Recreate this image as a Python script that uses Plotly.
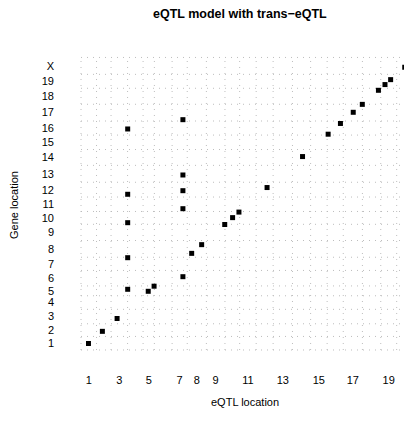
import numpy as np
import plotly.graph_objects as go

# ---- data ----
chrom_names = ["1", "2", "3", "4", "5", "6", "7", "8", "9", "10",
               "11", "12", "13", "14", "15", "16", "17", "18", "19", "X"]
chrom_len_cM = [77, 72, 82, 77, 56, 88, 75, 95, 92, 73,
                82, 84, 96, 90, 82, 80, 95, 91, 79, 96]
x_tick_chroms = ["1", "3", "5", "7", "8", "9", "11", "13", "15", "17", "19"]

# eQTL (x) and gene (y) locations: chromosome + position within chromosome (cM)
qtl_chr = ["1", "2", "3", "5", "5", "8", "8", "9", "10", "10", "12", "14", "16", "16",
           "17", "17", "18", "19", "19", "X", "X",
           "4", "4", "4", "4", "4",
           "7", "7", "7", "7", "7"]
qtl_pos = [37, 29, 30, 25.5, 54.5, 22, 71.5, 91, 38, 69.5, 54, 50, 5, 66,
           49.5, 94.5, 79.5, 21, 49, 40, 55,
           0.6, 0.6, 0.6, 0.6, 0.6,
           53.5, 53.5, 53.5, 53.5, 53.5]
gene_chr = ["1", "2", "3", "5", "5", "8", "8", "9", "10", "10", "12", "14", "16", "16",
            "17", "17", "18", "19", "19", "X", "X",
            "16", "12", "10", "7", "5",
            "17", "13", "12", "11", "6"]
gene_pos = [37, 29, 30, 25.5, 54.5, 22, 71.5, 91, 38, 69.5, 54, 50, 5, 66,
            49.5, 94.5, 79.5, 21, 49, 40, 55,
            34.7, 15.7, 9.3, 72.4, 36.9,
            7.5, 41.3, 36.1, 15.8, 52.5]

# ---- derived positions ----
lens = np.array(chrom_len_cM, dtype=float)
starts = np.concatenate([[0.0], np.cumsum(lens)[:-1]])
bounds = np.concatenate([[0.0], np.cumsum(lens)])
mids = starts + lens / 2
start_of = dict(zip(chrom_names, starts))
mid_of = dict(zip(chrom_names, mids))

xs = [start_of[c] + p for c, p in zip(qtl_chr, qtl_pos)]
ys = [start_of[c] + p for c, p in zip(gene_chr, gene_pos)]

OFF = 8  # page body margin
W, H = 404, 414
ML, MR, MT, MB = 72, 0, 47, 70
XR = [-5, 1642]
YR = [-11.4, 1676]

fig = go.Figure()
fig.add_trace(go.Scatter(
    x=xs, y=ys, mode="markers",
    marker=dict(symbol="square", size=5, color="black", line=dict(width=0)),
    cliponaxis=False, hoverinfo="skip", showlegend=False))

grid_line = dict(color="#bdbdbd", width=1, dash="1px,5px")
shapes = []
for b in bounds:
    shapes.append(dict(type="line", xref="x", yref="y", x0=b, x1=b, y0=0, y1=bounds[-1],
                       line=grid_line, layer="below"))
    shapes.append(dict(type="line", xref="x", yref="y", x0=0, x1=bounds[-1], y0=b, y1=b,
                       line=grid_line, layer="below"))

def px_to_paper_x(px):
    return (px - OFF - ML) / (W - ML - MR)

def px_to_paper_y(py):
    return (H - MB - (py - OFF)) / (H - MT - MB)

font_family = "Liberation Sans, Arial, sans-serif"
annotations = [
    dict(text="<b>eQTL model with trans\u2212eQTL</b>", x=px_to_paper_x(240), y=px_to_paper_y(14),
         xref="paper", yref="paper", showarrow=False, xanchor="center", yanchor="middle",
         font=dict(size=12.5, color="black", family=font_family)),
    dict(text="eQTL location", x=px_to_paper_x(245), y=px_to_paper_y(402),
         xref="paper", yref="paper", showarrow=False, xanchor="center", yanchor="middle",
         font=dict(size=11, color="black", family=font_family)),
    dict(text="Gene location", x=px_to_paper_x(14), y=px_to_paper_y(205),
         xref="paper", yref="paper", showarrow=False, xanchor="center", yanchor="middle",
         textangle=-90, font=dict(size=11, color="black", family=font_family)),
]

fig.update_layout(
    width=W, height=H, margin=dict(l=ML, r=MR, t=MT, b=MB),
    paper_bgcolor="white", plot_bgcolor="white",
    shapes=shapes, annotations=annotations,
    font=dict(family=font_family, size=11, color="black"),
    xaxis=dict(range=XR, showgrid=False, zeroline=False, showline=False, ticks="",
               tickmode="array", tickvals=[mid_of[c] for c in x_tick_chroms],
               ticktext=x_tick_chroms, ticklabelstandoff=20,
               tickfont=dict(size=11, color="black")),
    yaxis=dict(range=YR, showgrid=False, zeroline=False, showline=False, ticks="",
               tickmode="array", tickvals=list(mids), ticktext=chrom_names,
               ticklabelstandoff=25, tickfont=dict(size=11, color="black")),
)

fig.write_html("out.html")
